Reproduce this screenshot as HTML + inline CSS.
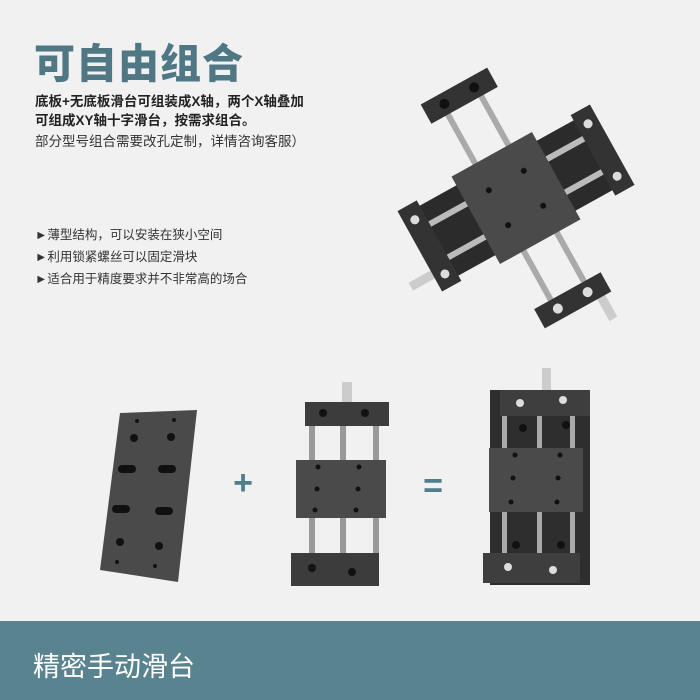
<!DOCTYPE html>
<html><head><meta charset="utf-8"><style>
body{margin:0;width:700px;height:700px;background:#f1f1f1;position:relative;overflow:hidden;font-family:"Liberation Sans","Noto Sans CJK SC",sans-serif}
.t{position:absolute;white-space:nowrap}
</style></head><body>
<div class="t" style="left:34px;top:30px;font-size:41px;font-weight:900;color:#4f7784;letter-spacing:1px">可自由组合</div>
<div class="t" style="left:35px;top:92px;font-size:13.5px;font-weight:bold;color:#222;line-height:19px">底板+无底板滑台可组装成X轴，两个X轴叠加<br>可组成XY轴十字滑台，按需求组合。</div>
<div class="t" style="left:35px;top:130px;font-size:13.5px;color:#333">部分型号组合需要改孔定制，详情咨询客服）</div>
<div class="t" style="left:35px;top:224px;font-size:12.5px;color:#333;line-height:22px">►薄型结构，可以安装在狭小空间<br>►利用锁紧螺丝可以固定滑块<br>►适合用于精度要求并不非常高的场合</div>
<svg width="700" height="700" style="position:absolute;left:0;top:0">
<g transform="translate(516,198) rotate(-29)">
 <rect x="-22" y="-112" width="6" height="224" fill="#aaa"/><rect x="16" y="-112" width="6" height="224" fill="#aaa"/>
 <rect x="22" y="118" width="9" height="35" fill="#ccc"/>
 <rect x="-95" y="-40" width="190" height="80" fill="#2b2b2b"/>
 <rect x="-90" y="-22" width="180" height="6" fill="#bbb"/><rect x="-90" y="16" width="180" height="6" fill="#bbb"/>
 <rect x="-135" y="22" width="30" height="9" fill="#ccc"/>
 <rect x="-110" y="-46" width="22" height="92" fill="#333"/><rect x="88" y="-46" width="22" height="92" fill="#333"/>
 <circle cx="-99" cy="-30" r="4.5" fill="#ddd"/><circle cx="-99" cy="32" r="4.5" fill="#ddd"/>
 <circle cx="99" cy="-30" r="4.5" fill="#ddd"/><circle cx="99" cy="30" r="4.5" fill="#ddd"/>
 <rect x="-38" y="-128" width="76" height="22" fill="#333"/><rect x="-38" y="106" width="76" height="22" fill="#333"/>
 <circle cx="-17" cy="-117" r="5" fill="#111"/><circle cx="17" cy="-117" r="5" fill="#111"/>
 <circle cx="-17" cy="117" r="5" fill="#ddd"/><circle cx="17" cy="117" r="5" fill="#ddd"/>
 <rect x="-46" y="-50" width="92" height="100" fill="#4a4a4a"/>
 <circle cx="-20" cy="-20" r="3" fill="#111"/><circle cx="20" cy="-20" r="3" fill="#111"/><circle cx="-20" cy="20" r="3" fill="#111"/><circle cx="20" cy="20" r="3" fill="#111"/>
</g>
<polygon points="120,413 197,410 178,582 100,570" fill="#4a4a4a"/>
<g fill="#111"><circle cx="137" cy="421" r="2"/><circle cx="174" cy="420" r="2"/><circle cx="134" cy="438" r="4"/><circle cx="171" cy="437" r="4"/>
<rect x="118" y="465" width="18" height="8" rx="4"/><rect x="158" y="465" width="18" height="8" rx="4"/><rect x="112" y="505" width="18" height="8" rx="4"/><rect x="155" y="507" width="18" height="8" rx="4"/>
<circle cx="120" cy="542" r="4"/><circle cx="159" cy="546" r="4"/><circle cx="117" cy="562" r="2"/><circle cx="155" cy="566" r="2"/></g>
<text x="243" y="494" font-size="34" fill="#4f7f8a" text-anchor="middle" font-family="Liberation Sans" font-weight="bold">+</text>
<text x="433" y="497" font-size="34" fill="#4f7f8a" text-anchor="middle" font-family="Liberation Sans" font-weight="bold">=</text>
<rect x="342" y="382" width="10" height="22" fill="#ccc"/>
<rect x="309" y="420" width="6" height="140" fill="#999"/><rect x="340" y="420" width="6" height="140" fill="#999"/><rect x="373" y="420" width="6" height="140" fill="#999"/>
<rect x="305" y="402" width="84" height="24" fill="#3c3c3c"/><rect x="296" y="460" width="90" height="58" fill="#4a4a4a"/><rect x="291" y="553" width="88" height="33" fill="#3c3c3c"/>
<g fill="#111"><circle cx="323" cy="413" r="4"/><circle cx="365" cy="413" r="4"/><circle cx="312" cy="568" r="4"/><circle cx="352" cy="572" r="4"/>
<circle cx="318" cy="467" r="2.5"/><circle cx="359" cy="467" r="2.5"/><circle cx="317" cy="489" r="2.5"/><circle cx="358" cy="489" r="2.5"/><circle cx="315" cy="510" r="2.5"/><circle cx="356" cy="510" r="2.5"/></g>
<rect x="542" y="368" width="9" height="24" fill="#ccc"/>
<rect x="490" y="390" width="100" height="195" fill="#2e2e2e"/>
<rect x="502" y="410" width="5" height="150" fill="#aaa"/><rect x="537" y="410" width="5" height="150" fill="#aaa"/><rect x="570" y="410" width="5" height="150" fill="#aaa"/>
<rect x="500" y="390" width="90" height="26" fill="#3e3e3e"/><rect x="489" y="448" width="94" height="64" fill="#4a4a4a"/><rect x="483" y="553" width="97" height="30" fill="#3e3e3e"/>
<g fill="#ddd"><circle cx="520" cy="403" r="4"/><circle cx="563" cy="400" r="4"/><circle cx="508" cy="567" r="4"/><circle cx="553" cy="570" r="4"/></g>
<g fill="#111"><circle cx="523" cy="428" r="4"/><circle cx="566" cy="425" r="4"/><circle cx="516" cy="545" r="4"/><circle cx="561" cy="545" r="4"/>
<circle cx="515" cy="455" r="2.5"/><circle cx="560" cy="455" r="2.5"/><circle cx="513" cy="478" r="2.5"/><circle cx="558" cy="478" r="2.5"/><circle cx="511" cy="502" r="2.5"/><circle cx="557" cy="502" r="2.5"/></g>
</svg>
<div style="position:absolute;left:0;top:621px;width:700px;height:79px;background:#5a8390"></div>
<div class="t" style="left:33px;top:645px;font-size:27px;color:#fff">精密手动滑台</div>
</body></html>
